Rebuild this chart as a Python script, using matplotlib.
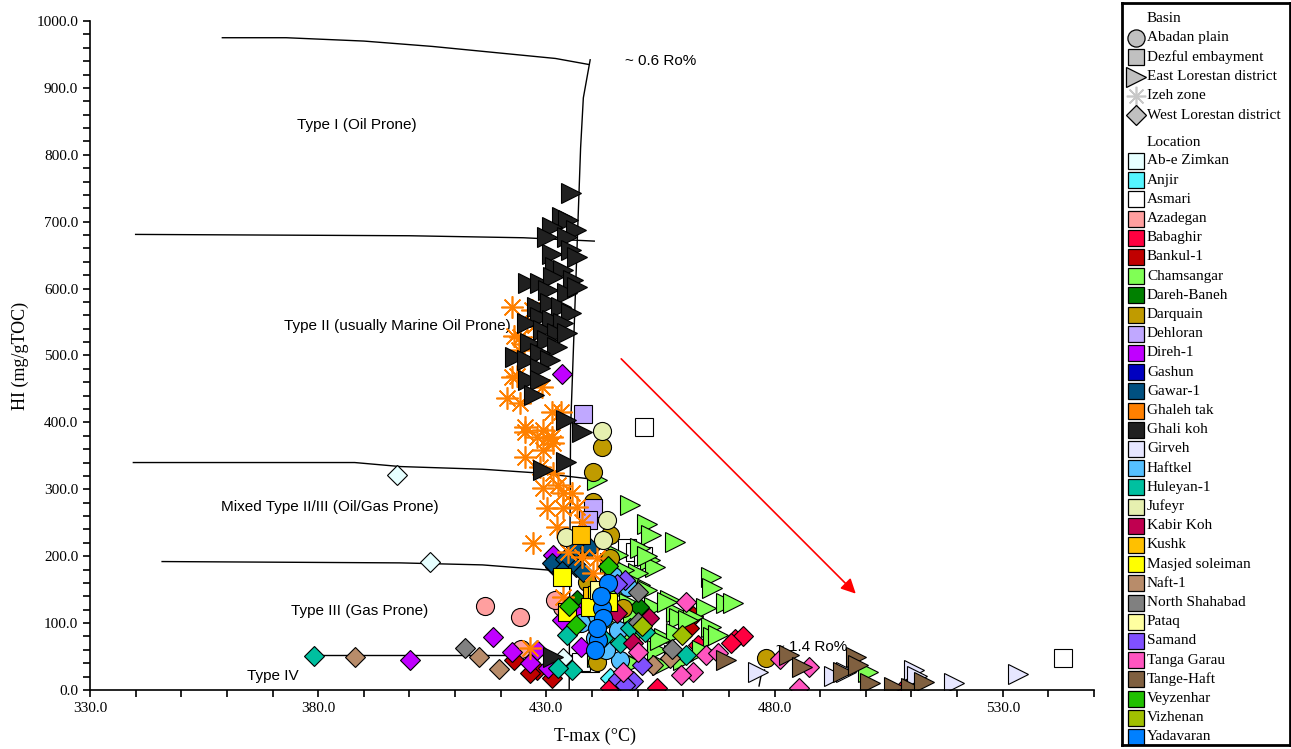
import matplotlib.pyplot as plt
from matplotlib.ticker import MultipleLocator, FormatStrFormatter

plt.rcParams['font.family'] = ['Liberation Serif', 'DejaVu Serif']

# ---- data (T-max in degC, HI in mg/gTOC) ----
ab_e_zimkan_x = [397.3, 404.6, 433.7]
ab_e_zimkan_y = [321, 191, 48]
anjir_x = [444.0, 447.3, 448.4, 445.5]
anjir_y = [18, 8, 11, 4]
asmari_x = [451.3, 543.2, 447.6, 449.5, 451.2, 439.6, 437.5]
asmari_y = [393, 48, 213, 206, 200, 40, 42]
azadegan_x = [416.6, 424.3, 424.5, 433.5, 432.0]
azadegan_y = [126, 109, 61, 124, 135]
babaghir_x = [444.0, 454.3, 463.3, 471.3, 473.0, 508.4, 470.4, 452.0]
babaghir_y = [3, 3, 68, 76, 80, 3, 70, 108]
bankul_1_x = [462.2, 461.2, 428.0, 431.3, 422.8, 443.4, 426.5]
bankul_1_y = [110, 92, 30, 18, 45, 64, 26]
chamsangar_x = [441.2, 448.4, 452.1, 453.0, 458.1, 466.0, 466.4, 469.3, 470.8, 457.2,
                453.5, 464.9, 466.0, 466.6, 455.7, 450.6, 452.8, 453.9, 450.0, 450.6,
                452.1, 458.3, 459.0, 462.2, 454.3, 457.9, 455.4, 447.8, 445.6, 448.4,
                450.6, 449.0, 445.6, 456.5, 461.1, 467.7, 458.3, 455.0, 500.4, 444.0,
                446.0, 443.0, 441.0, 452.0, 449.0, 464.0, 460.0, 447.0, 448.0]
chamsangar_y = [314, 277, 248, 232, 221, 169, 153, 130, 130, 135,
                124, 123, 94, 79, 78, 212, 194, 184, 175, 157,
                150, 117, 108, 109, 60, 52, 37, 45, 70, 75,
                87, 115, 202, 132, 105, 82, 85, 75, 27, 190,
                150, 100, 50, 200, 40, 60, 45, 180, 130]
dareh_baneh_x = [436.8, 450.2, 442.0]
dareh_baneh_y = [135, 124, 140]
darquain_x = [442.3, 440.3, 440.3, 444.0, 439.0, 446.7, 441.2, 435.7, 478.2, 444.0, 437.0]
darquain_y = [363, 326, 281, 197, 161, 123, 42, 190, 48, 232, 205]
dehloran_x = [438.1, 440.3, 439.2]
dehloran_y = [413, 272, 254]
direh_1_x = [433.5, 400.2, 418.4, 422.5, 426.5, 430.4, 431.5, 433.5, 437.5, 437.5, 428.0, 436.0]
direh_1_y = [473, 45, 79, 57, 40, 33, 202, 105, 117, 64, 60, 118]
gashun_x = [441.5]
gashun_y = [105]
gawar_1_x = [436.4, 439.6, 432.0, 436.4, 438.1, 431.3, 434.0, 433.5]
gawar_1_y = [214, 212, 184, 184, 176, 190, 196, 178]
ghaleh_tak_x = [422.5, 426.9, 424.3, 422.5, 429.1, 421.4, 424.3, 431.3, 433.1, 425.4,
                429.3, 431.3, 431.5, 428.0, 425.4, 430.2, 425.4, 429.3, 428.7, 431.5,
                429.3, 432.6, 433.7, 435.7, 430.2, 433.7, 436.8, 432.4, 437.9, 427.1,
                434.8, 437.9, 441.2, 440.3, 433.7, 426.5, 423.0, 424.1, 425.0, 423.5, 427.5]
ghaleh_tak_y = [573, 568, 528, 468, 453, 437, 429, 416, 416, 393,
                389, 378, 369, 378, 386, 377, 348, 359, 333, 324,
                302, 306, 294, 294, 272, 272, 274, 244, 251, 220,
                206, 199, 197, 175, 139, 63, 529, 508, 517, 470, 545]
ghali_koh_x = [435.3, 433.5, 434.8, 431.3, 436.4, 430.2, 434.6, 431.3, 435.3, 436.8,
               432.0, 433.7, 426.0, 428.7, 431.5, 435.9, 430.4, 434.6, 436.8, 428.0,
               430.9, 433.1, 435.3, 428.7, 431.3, 433.7, 425.8, 429.3, 432.4, 434.6,
               426.5, 430.2, 432.4, 423.2, 425.8, 428.7, 430.9, 428.7, 426.0, 428.7,
               427.2, 434.2, 437.9, 429.3, 434.2, 431.5]
ghali_koh_y = [743, 707, 703, 692, 688, 677, 677, 652, 658, 647,
               632, 628, 608, 608, 617, 613, 598, 593, 603, 573,
               579, 573, 564, 558, 553, 549, 549, 538, 534, 534,
               519, 523, 513, 498, 493, 504, 493, 481, 463, 463,
               441, 404, 386, 329, 341, 49]
girveh_x = [476.3, 493.0, 495.6, 510.5, 511.2, 519.3, 533.4]
girveh_y = [27, 21, 27, 30, 21, 10, 24]
haftkel_x = [447.8, 441.2, 445.6, 440.7, 446.2, 437.5, 443.0, 444.5]
haftkel_y = [154, 105, 90, 78, 45, 100, 60, 170]
huleyan_1_x = [379.0, 434.6, 442.5, 446.2, 448.4, 451.7, 460.5, 435.7, 432.6]
huleyan_1_y = [51, 82, 78, 70, 93, 87, 52, 30, 33]
jufeyr_x = [442.3, 443.2, 434.2, 442.5]
jufeyr_y = [387, 254, 229, 224]
kabir_koh_x = [448.9, 445.5, 452.5]
kabir_koh_y = [71, 115, 108]
kushk_x = [437.6, 440.0]
kushk_y = [232, 140]
masjed_soleiman_x = [433.5, 441.2, 443.6, 439.6, 434.6]
masjed_soleiman_y = [169, 142, 132, 124, 117]
naft_1_x = [388.0, 415.2, 419.6, 453.3, 457.0]
naft_1_y = [49, 49, 32, 37, 48]
north_shahabad_x = [412.2, 450.1, 450.0, 457.5]
north_shahabad_y = [63, 146, 102, 62]
pataq_x = [441.6]
pataq_y = [150]
samand_x = [447.3, 445.5, 451.0, 445.6, 449.0, 447.2]
samand_y = [164, 158, 37, 16, 13, 8]
tanga_garau_x = [460.5, 464.9, 467.5, 462.2, 459.4, 446.7, 481.3, 487.5, 485.3, 450.0]
tanga_garau_y = [132, 52, 56, 27, 22, 27, 47, 34, 3, 57]
tange_haft_x = [469.3, 483.1, 486.1, 494.9, 497.8, 498.2, 501.0, 506.1, 509.8, 512.7]
tange_haft_y = [45, 52, 34, 27, 49, 37, 10, 4, 3, 12]
veyzenhar_x = [443.4, 436.6, 435.0]
veyzenhar_y = [185, 97, 125]
vizhenan_x = [459.8, 451.0]
vizhenan_y = [82, 95]
yadavaran_x = [443.4, 442.3, 442.5, 441.4, 440.7, 442.0, 441.0]
yadavaran_y = [160, 123, 108, 75, 60, 140, 92]

basins = ['Abadan plain', 'Dezful embayment', 'East Lorestan district',
          'Izeh zone', 'West Lorestan district']
locations = ['Ab-e Zimkan', 'Anjir', 'Asmari', 'Azadegan', 'Babaghir', 'Bankul-1',
             'Chamsangar', 'Dareh-Baneh', 'Darquain', 'Dehloran', 'Direh-1', 'Gashun',
             'Gawar-1', 'Ghaleh tak', 'Ghali koh', 'Girveh', 'Haftkel', 'Huleyan-1',
             'Jufeyr', 'Kabir Koh', 'Kushk', 'Masjed soleiman', 'Naft-1',
             'North Shahabad', 'Pataq', 'Samand', 'Tanga Garau', 'Tange-Haft',
             'Veyzenhar', 'Vizhenan', 'Yadavaran']
location_basin = ['West Lorestan district', 'West Lorestan district', 'Dezful embayment',
                  'Abadan plain', 'West Lorestan district', 'West Lorestan district',
                  'East Lorestan district', 'West Lorestan district', 'Abadan plain',
                  'Dezful embayment', 'West Lorestan district', 'Abadan plain',
                  'West Lorestan district', 'Izeh zone', 'East Lorestan district',
                  'East Lorestan district', 'Abadan plain', 'West Lorestan district',
                  'Abadan plain', 'West Lorestan district', 'Dezful embayment',
                  'Dezful embayment', 'West Lorestan district', 'West Lorestan district',
                  'Dezful embayment', 'West Lorestan district', 'West Lorestan district',
                  'East Lorestan district', 'West Lorestan district',
                  'West Lorestan district', 'Abadan plain']
xs = [ab_e_zimkan_x, anjir_x, asmari_x, azadegan_x, babaghir_x, bankul_1_x,
      chamsangar_x, dareh_baneh_x, darquain_x, dehloran_x, direh_1_x, gashun_x,
      gawar_1_x, ghaleh_tak_x, ghali_koh_x, girveh_x, haftkel_x, huleyan_1_x,
      jufeyr_x, kabir_koh_x, kushk_x, masjed_soleiman_x, naft_1_x,
      north_shahabad_x, pataq_x, samand_x, tanga_garau_x, tange_haft_x,
      veyzenhar_x, vizhenan_x, yadavaran_x]
ys = [ab_e_zimkan_y, anjir_y, asmari_y, azadegan_y, babaghir_y, bankul_1_y,
      chamsangar_y, dareh_baneh_y, darquain_y, dehloran_y, direh_1_y, gashun_y,
      gawar_1_y, ghaleh_tak_y, ghali_koh_y, girveh_y, haftkel_y, huleyan_1_y,
      jufeyr_y, kabir_koh_y, kushk_y, masjed_soleiman_y, naft_1_y,
      north_shahabad_y, pataq_y, samand_y, tanga_garau_y, tange_haft_y,
      veyzenhar_y, vizhenan_y, yadavaran_y]

# kerogen type boundaries and maturity lines
ro06_x = [435.0, 435.3, 437.5, 438.1, 439.6]
ro06_y = [0, 390, 810, 885, 942]
type1_x = [359, 373, 390, 405, 420, 432, 439.3]
type1_y = [975, 975, 970, 962, 952, 944, 935]
type2_x = [340, 400, 425, 440.5]
type2_y = [681, 679, 676, 671]
type3_x = [339.5, 388, 398, 416, 429, 439]
type3_y = [340, 340, 334, 330, 324, 316]
type4_x = [345.8, 398, 416, 431, 434.6]
type4_y = [192, 190, 187, 179, 176]
type5_x = [379, 435.3]
type5_y = [53, 53]
ro14_x = [476.6, 477.0, 477.8]
ro14_y = [6, 20, 30]

x_ticks = [330, 380, 430, 480, 530]

colors = ['#e6ffff', '#55f5ff', '#ffffff', '#ff9f9f', '#ff0040', '#c00000',
          '#80ff55', '#008000', '#c09b00', '#c0a8ff', '#c000ff', '#0000c0',
          '#005080', '#ff8000', '#202020', '#e6e6ff', '#55c0ff', '#00c0a0',
          '#e6f0b0', '#c00050', '#ffc000', '#ffff00', '#b88c6a', '#808080',
          '#ffffa0', '#8050ff', '#ff55c0', '#806040', '#20c000', '#a0c000',
          '#0080ff']
basin_marker = {'Abadan plain': 'o', 'Dezful embayment': 's',
                'East Lorestan district': '>', 'Izeh zone': (8, 2, 0),
                'West Lorestan district': 'D'}
basin_size = {'Abadan plain': 13, 'Dezful embayment': 12.5,
              'East Lorestan district': 14.5, 'Izeh zone': 16,
              'West Lorestan district': 10.5}

W, H = 1291, 749
fig = plt.figure(figsize=(W / 100, H / 100), dpi=100)
ax = fig.add_axes([90 / W, (H - 690) / H, 1004 / W, 669 / H])

line_kw = dict(color='black', lw=1.0, zorder=1)
for lx, ly in [(ro06_x, ro06_y), (type1_x, type1_y), (type2_x, type2_y),
               (type3_x, type3_y), (type4_x, type4_y), (type5_x, type5_y),
               (ro14_x, ro14_y)]:
    ax.plot(lx, ly, **line_kw)

sans = ['Liberation Sans', 'DejaVu Sans']
tk = dict(fontsize=11, family=sans, zorder=1.5, va='center')
ax.text(447.3, 940, '~ 0.6 Ro%', **tk)
ax.text(388.5, 845, 'Type I (Oil Prone)', ha='center', **tk)
ax.text(372.5, 544, 'Type II (usually Marine Oil Prone)', **tk)
ax.text(358.6, 274, 'Mixed Type II/III (Oil/Gas Prone)', **tk)
ax.text(374.0, 118, 'Type III (Gas Prone)', **tk)
ax.text(364.4, 21, 'Type IV', **tk)
ax.text(480.4, 64, '~ 1.4 Ro%', **tk)

ax.annotate('', xy=(497.8, 144), xytext=(446.4, 495),
            arrowprops=dict(arrowstyle='-|>', color='red', lw=1.2,
                            mutation_scale=22, shrinkA=0, shrinkB=0), zorder=1.5)

for i, name in enumerate(locations):
    b = location_basin[i]
    if b == 'Izeh zone':
        ax.plot(xs[i], ys[i], ls='none', marker=basin_marker[b], ms=basin_size[b],
                mec=colors[i], mew=1.2, zorder=2 + i * 0.01)
    else:
        ax.plot(xs[i], ys[i], ls='none', marker=basin_marker[b], ms=basin_size[b],
                mfc=colors[i], mec='black', mew=0.8, zorder=2 + i * 0.01)

ax.set_xlim(330, 550)
ax.set_ylim(0, 1000)
ax.set_xticks(x_ticks)
ax.xaxis.set_minor_locator(MultipleLocator(10))
ax.yaxis.set_major_locator(MultipleLocator(100))
ax.yaxis.set_minor_locator(MultipleLocator(20))
ax.xaxis.set_major_formatter(FormatStrFormatter('%.1f'))
ax.yaxis.set_major_formatter(FormatStrFormatter('%.1f'))
ax.tick_params(which='both', direction='out', length=5, width=1.2, labelsize=11)
ax.spines['top'].set_visible(False)
ax.spines['right'].set_visible(False)
ax.spines['left'].set_linewidth(1.2)
ax.spines['bottom'].set_linewidth(1.2)
ax.set_xlabel('T-max (°C)', fontsize=13)
ax.set_ylabel('HI (mg/gTOC)', fontsize=13)
ax.xaxis.set_label_coords(0.503, -0.056)
ax.yaxis.set_label_coords(-0.061, 0.5)

# legend box
lax = fig.add_axes([1122 / W, 4 / H, 168 / W, 742 / H])
lax.set_xlim(0, 168)
lax.set_ylim(742, 0)
lax.set_xticks([])
lax.set_yticks([])
for s in lax.spines.values():
    s.set_linewidth(2)
lt = dict(fontsize=11, va='center', ha='left')
lax.text(25, 16, 'Basin', **lt)
for i, b in enumerate(basins):
    yy = 35 + 19.3 * i
    if b == 'Izeh zone':
        lax.plot(14, yy, ls='none', marker=basin_marker[b], ms=14, mec='#c8c8c8', mew=1.2)
    else:
        lax.plot(14, yy, ls='none', marker=basin_marker[b], ms=basin_size[b] * 0.95,
                 mfc='#c0c0c0', mec='black', mew=0.9)
    lax.text(25, yy, b, **lt)
lax.text(25, 139, 'Location', **lt)
for i, name in enumerate(locations):
    yy = 158 + 19.2 * i
    lax.plot(14, yy, ls='none', marker='s', ms=11.5, mfc=colors[i], mec='black', mew=0.9)
    lax.text(25, yy, name, **lt)

fig.savefig('out.png', dpi=100)
